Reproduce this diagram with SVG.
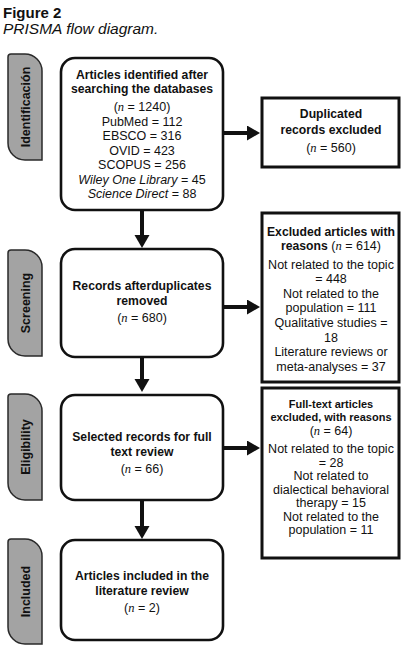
<svg xmlns="http://www.w3.org/2000/svg" width="406" height="653" viewBox="0 0 406 653">
<defs>
<style>
.t{font-family:"Liberation Sans",Arial,sans-serif;font-size:12.5px;fill:#111;text-anchor:middle}
.b{font-weight:bold;font-size:12.2px}
.bs{font-weight:bold;font-size:11px}
.n{font-family:"Liberation Serif","Times New Roman",serif;font-style:italic}
.i{font-style:italic}
.tab{fill:#a3a3a3;stroke:#2a2a2a;stroke-width:1.5}
.tabt{font-family:"Liberation Sans",Arial,sans-serif;font-weight:bold;font-size:12.5px;fill:#111;text-anchor:middle}
.rb{fill:#fff;stroke:#111;stroke-width:2.6}
.sb{fill:#fff;stroke:#111;stroke-width:3}
.c{stroke:#111;stroke-width:4;fill:none;marker-end:url(#ah)}
</style>
<marker id="ah" markerUnits="userSpaceOnUse" markerWidth="14" markerHeight="16" refX="2" refY="7.5" orient="auto">
<path d="M0,0 L13,7.5 L0,15 Z" fill="#111"/>
</marker>
</defs>
<rect width="406" height="653" fill="#fff"/>
<g id="title">
<text x="3" y="18" style="font-family:'Liberation Sans',Arial,sans-serif;font-weight:bold;font-size:15px;fill:#111">Figure 2</text>
<text x="3" y="34" style="font-family:'Liberation Sans',Arial,sans-serif;font-style:italic;font-size:15.5px;fill:#111">PRISMA flow diagram.</text>
</g>
<g id="tab-identification">
<path class="tab" d="M11,54 L25,54 A17,17 0 0 1 42,71 L42,160 L25,160 A17,17 0 0 1 8,143 L8,57 A3,3 0 0 1 11,54 Z"/>
<text class="tabt" transform="translate(29.5,107) rotate(-90)">Identificación</text>
</g>
<g id="tab-screening">
<path class="tab" d="M11,250 L25,250 A17,17 0 0 1 42,267 L42,356 L25,356 A17,17 0 0 1 8,339 L8,253 A3,3 0 0 1 11,250 Z"/>
<text class="tabt" transform="translate(29.5,303) rotate(-90)">Screening</text>
</g>
<g id="tab-eligibility">
<path class="tab" d="M11,394 L25,394 A17,17 0 0 1 42,411 L42,500 L25,500 A17,17 0 0 1 8,483 L8,397 A3,3 0 0 1 11,394 Z"/>
<text class="tabt" transform="translate(29.5,447) rotate(-90)">Eligibility</text>
</g>
<g id="tab-included">
<path class="tab" d="M11,539 L25,539 A17,17 0 0 1 42,556 L42,644 L25,644 A17,17 0 0 1 8,627 L8,542 A3,3 0 0 1 11,539 Z"/>
<text class="tabt" transform="translate(29.5,591.5) rotate(-90)">Included</text>
</g>
<g id="connectors">
<line class="c" x1="142" y1="210" x2="142" y2="237"/>
<line class="c" x1="142" y1="357" x2="142" y2="381"/>
<line class="c" x1="142" y1="500" x2="142" y2="528"/>
<line class="c" x1="223" y1="133" x2="249" y2="133"/>
<line class="c" x1="223" y1="307" x2="249" y2="307"/>
<line class="c" x1="223" y1="448" x2="249" y2="448"/>
</g>
<g id="identified">
<rect class="rb" x="61" y="58" width="162" height="152" rx="14"/>
<text class="t b" x="142" y="78.5">Articles identified after</text>
<text class="t b" x="142" y="93">searching the databases</text>
<text class="t" x="142" y="111">(<tspan class="n">n</tspan> = 1240)</text>
<text class="t" x="142" y="125.5">PubMed = 112</text>
<text class="t" x="142" y="140">EBSCO = 316</text>
<text class="t" x="142" y="154.5">OVID = 423</text>
<text class="t" x="142" y="169">SCOPUS = 256</text>
<text class="t" x="142" y="183.5"><tspan class="i">Wiley One Library</tspan> = 45</text>
<text class="t" x="142" y="198"><tspan class="i">Science Direct</tspan> = 88</text>
</g>
<g id="duplicated">
<rect class="sb" x="262" y="98" width="137" height="69"/>
<text class="t b" x="331" y="117.5">Duplicated</text>
<text class="t b" x="331" y="133.5">records excluded</text>
<text class="t" x="331" y="152">(<tspan class="n">n</tspan> = 560)</text>
</g>
<g id="screening">
<rect class="rb" x="61" y="249" width="162" height="108" rx="14"/>
<text class="t b" x="142" y="289.5">Records afterduplicates</text>
<text class="t b" x="142" y="305">removed</text>
<text class="t" x="142" y="322">(<tspan class="n">n</tspan> = 680)</text>
</g>
<g id="excluded">
<rect class="sb" x="262" y="213" width="137" height="169"/>
<text class="t b" x="331" y="235.5">Excluded articles with</text>
<text class="t" x="331" y="249.5"><tspan font-weight="bold" font-size="12.2px">reasons</tspan> (<tspan class="n">n</tspan> = 614)</text>
<text class="t" x="331" y="268.5">Not related to the topic</text>
<text class="t" x="331" y="283">= 448</text>
<text class="t" x="331" y="297.5">Not related to the</text>
<text class="t" x="331" y="312">population = 111</text>
<text class="t" x="331" y="327">Qualitative studies =</text>
<text class="t" x="331" y="341.5">18</text>
<text class="t" x="331" y="356">Literature reviews or</text>
<text class="t" x="331" y="370.5">meta-analyses = 37</text>
</g>
<g id="eligibility">
<rect class="rb" x="61" y="395" width="162" height="105" rx="14"/>
<text class="t b" x="142" y="440.5">Selected records for full</text>
<text class="t b" x="142" y="456">text review</text>
<text class="t" x="142" y="473">(<tspan class="n">n</tspan> = 66)</text>
</g>
<g id="fulltext">
<rect class="sb" x="262" y="388" width="137" height="170"/>
<text class="t bs" x="331" y="407.5">Full-text articles</text>
<text class="t bs" x="331" y="421">excluded, with reasons</text>
<text class="t" x="331" y="434.5">(<tspan class="n">n</tspan> = 64)</text>
<text class="t" x="331" y="453">Not related to the topic</text>
<text class="t" x="331" y="466.5">= 28</text>
<text class="t" x="331" y="480">Not related to</text>
<text class="t" x="331" y="493.5">dialectical behavioral</text>
<text class="t" x="331" y="507">therapy = 15</text>
<text class="t" x="331" y="520.5">Not related to the</text>
<text class="t" x="331" y="534">population = 11</text>
</g>
<g id="included">
<rect class="rb" x="61" y="540" width="162" height="100" rx="14"/>
<text class="t b" x="142" y="579.5">Articles included in the</text>
<text class="t b" x="142" y="595">literature review</text>
<text class="t" x="142" y="611.5">(<tspan class="n">n</tspan> = 2)</text>
</g>
</svg>
